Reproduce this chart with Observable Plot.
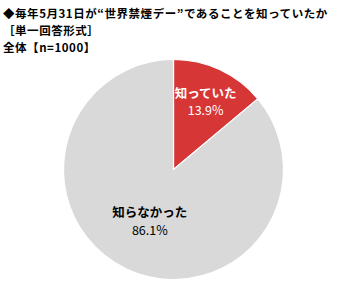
<!DOCTYPE html>
<html><head><meta charset="utf-8">
<script src="https://cdn.jsdelivr.net/npm/d3@7"></script>
<script src="https://cdn.jsdelivr.net/npm/@observablehq/plot@0.6"></script>
<style>
body{margin:0;background:#fff;font-family:"Noto Sans CJK JP",sans-serif;}
#title{height:56px;padding:5px 0 0 3px;box-sizing:border-box;font-weight:bold;font-size:11.5px;line-height:16.8px;color:#000;white-space:nowrap;letter-spacing:0.55px}
</style></head><body>
<div id="title"><div>◆毎年5月31日が“世界禁煙デー”であることを知っていたか</div><div>［単一回答形式］</div><div>全体【n=1000】</div></div>
<div id="chart"></div>
<script>
const categories = ["知っていた", "知らなかった"];
const values = [13.9, 86.1];
const colors = ["#d73637", "#d9d9d9"];
const labelColors = ["#ffffff", "#000000"];

const data = categories.map((c, i) => ({category: c, value: values[i]}));
const pie = d3.pie().sort(null).value(d => d.value)(data);
const W = 350, H = 249;
const cx = 173.5, cy = 113.5, R = 110;

const sliceMark = (index, scales, values, dims, context) => {
  const g = d3.create("svg:g");
  const x0 = scales.x(0), y0 = scales.y(0);
  const r = scales.x(1) - scales.x(0);
  const arc = d3.arc().innerRadius(0).outerRadius(r);
  g.selectAll("path").data(pie).join("path")
    .attr("transform", `translate(${x0},${y0})`)
    .attr("d", arc)
    .attr("fill", d => colors[categories.indexOf(d.data.category)])
    .attr("stroke", "#fff").attr("stroke-width", 1.2);
  return g.node();
};

const labelPos = pie.map(p => {
  const a = (p.startAngle + p.endAngle) / 2;
  const k = p.data.value < 50 ? 0.68 : 0.52;
  return {category: p.data.category, value: p.data.value, x: k * Math.sin(a), y: k * Math.cos(a)};
});

const chart = Plot.plot({
  width: W, height: H,
  marginTop: 0, marginBottom: 0, marginLeft: 0, marginRight: 0,
  x: {domain: [-cx / R, (W - cx) / R], axis: null},
  y: {domain: [-(H - cy) / R, cy / R], axis: null},
  marks: [
    Plot.dot([0], {x: () => 0, y: () => 0, render: sliceMark}),
    Plot.text(labelPos, {x: "x", y: "y", text: "category", dy: -8.5, fontWeight: "bold", fontSize: 12.5,
      fill: d => labelColors[categories.indexOf(d.category)]}),
    Plot.text(labelPos, {x: "x", y: "y", text: d => d.value.toFixed(1) + "%", dy: 9, fontSize: 12.5,
      fill: d => labelColors[categories.indexOf(d.category)]})
  ],
  style: {fontFamily: "'Noto Sans CJK JP', sans-serif", background: "#fff"}
});
document.getElementById("chart").appendChild(chart);
</script>
</body></html>
